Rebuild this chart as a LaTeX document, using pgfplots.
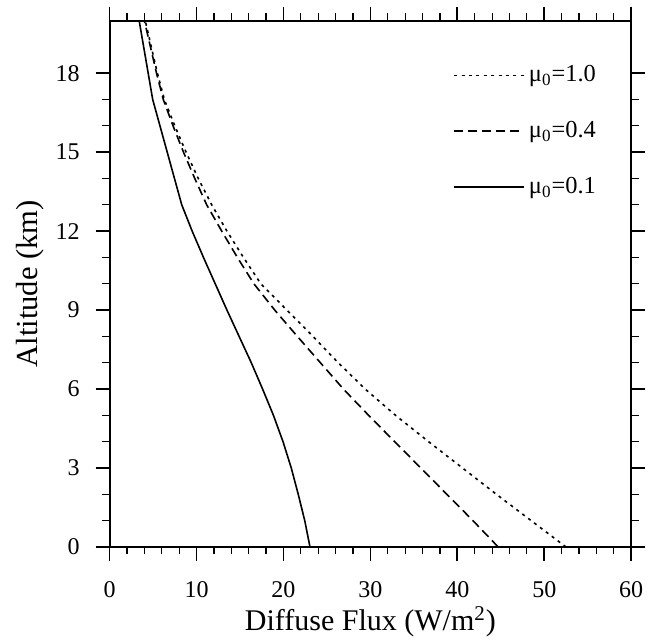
\documentclass[border=0pt]{standalone}
\usepackage{fontspec}
\setmainfont{Liberation Serif}
\usepackage{pgfplots}
\pgfplotsset{compat=1.18}
\begin{document}
\begin{tikzpicture}
\begin{axis}[
  scale only axis, width=260.8pt, height=263.2pt,
  xmin=0, xmax=60, ymin=0, ymax=20,
  xtick={0,10,...,60}, ytick={0,3,...,18},
  minor x tick num=4, minor y tick num=2,
  tick pos=both, xticklabel pos=left, yticklabel pos=left,
  tick align=outside,
  major tick length=7pt, minor tick length=3.75pt,
  axis line style={line width=1pt},
  every major tick/.style={line width=0.9pt, black},
  every minor tick/.style={line width=0.6pt, black},
  /pgf/number format/assume math mode=true,
  ticklabel style={font=\fontsize{12}{14}\selectfont},
  xticklabel style={yshift=-6.5pt},
  yticklabel style={xshift=-4.5pt},
  xlabel={Diffuse Flux (W/m\textsuperscript{2})},
  ylabel={Altitude (km)},
  xlabel style={font=\fontsize{15}{17}\selectfont, at={(rel axis cs:0.5,-0.1425)}, anchor=center},
  ylabel style={font=\fontsize{15.3}{17}\selectfont, at={(rel axis cs:-0.1526,0.5)}, anchor=center},
  legend style={draw=none, fill=none, inner sep=0pt, font=\fontsize{12.2}{14}\selectfont,
    row sep=14.3pt, at={(axis cs:39.5,18.45)}, anchor=north west},
  legend cell align=left,
  legend image code/.code={\draw[#1] (0pt,0pt) -- (35pt,0pt);},
]
\addplot[black, line width=0.8pt, dash pattern=on 1.5pt off 2.2pt] coordinates {
(52.5,0) (48.5,1) (44.5,2) (40.6,3) (36.7,4) (32.9,5) (29.4,6) (26.3,7) (23.4,8) (20.4,9) (17.4,10)
(15.4,11) (13.5,12) (11.75,13) (10.2,14) (8.8,15) (7.5,16) (6.3,17) (5.5,18) (4.8,19) (4.1,20)};
\addlegendentry{μ\textsubscript{0}=1.0}
\addplot[black, line width=0.8pt, dash pattern=on 4.5pt off 2.5pt] coordinates {
(44.7,0) (41.8,1) (38.8,2) (35.8,3) (32.8,4) (29.8,5) (26.9,6) (24.25,7) (21.6,8) (19.0,9) (16.6,10)
(14.7,11) (12.9,12) (11.17,13) (9.8,14) (8.5,15) (7.3,16) (6.18,17) (5.4,18) (4.7,19) (4.0,20)};
\addlegendentry{μ\textsubscript{0}=0.4}
\addplot[black, line width=0.8pt] coordinates {
(23.05,0) (22.45,1) (21.7,2) (20.9,3) (19.95,4) (18.85,5) (17.6,6) (16.3,7) (14.9,8) (13.5,9) (12.15,10)
(10.8,11) (9.5,12) (8.3,13) (4.96,17) (3.4,20)};
\addlegendentry{μ\textsubscript{0}=0.1}
\coordinate (bl) at (rel axis cs:-0.2101,-0.1748);
\coordinate (tr) at (rel axis cs:1.0571,1.0391);
\end{axis}
\pgfresetboundingbox
\useasboundingbox (bl) rectangle (tr);
\end{tikzpicture}
\end{document}
